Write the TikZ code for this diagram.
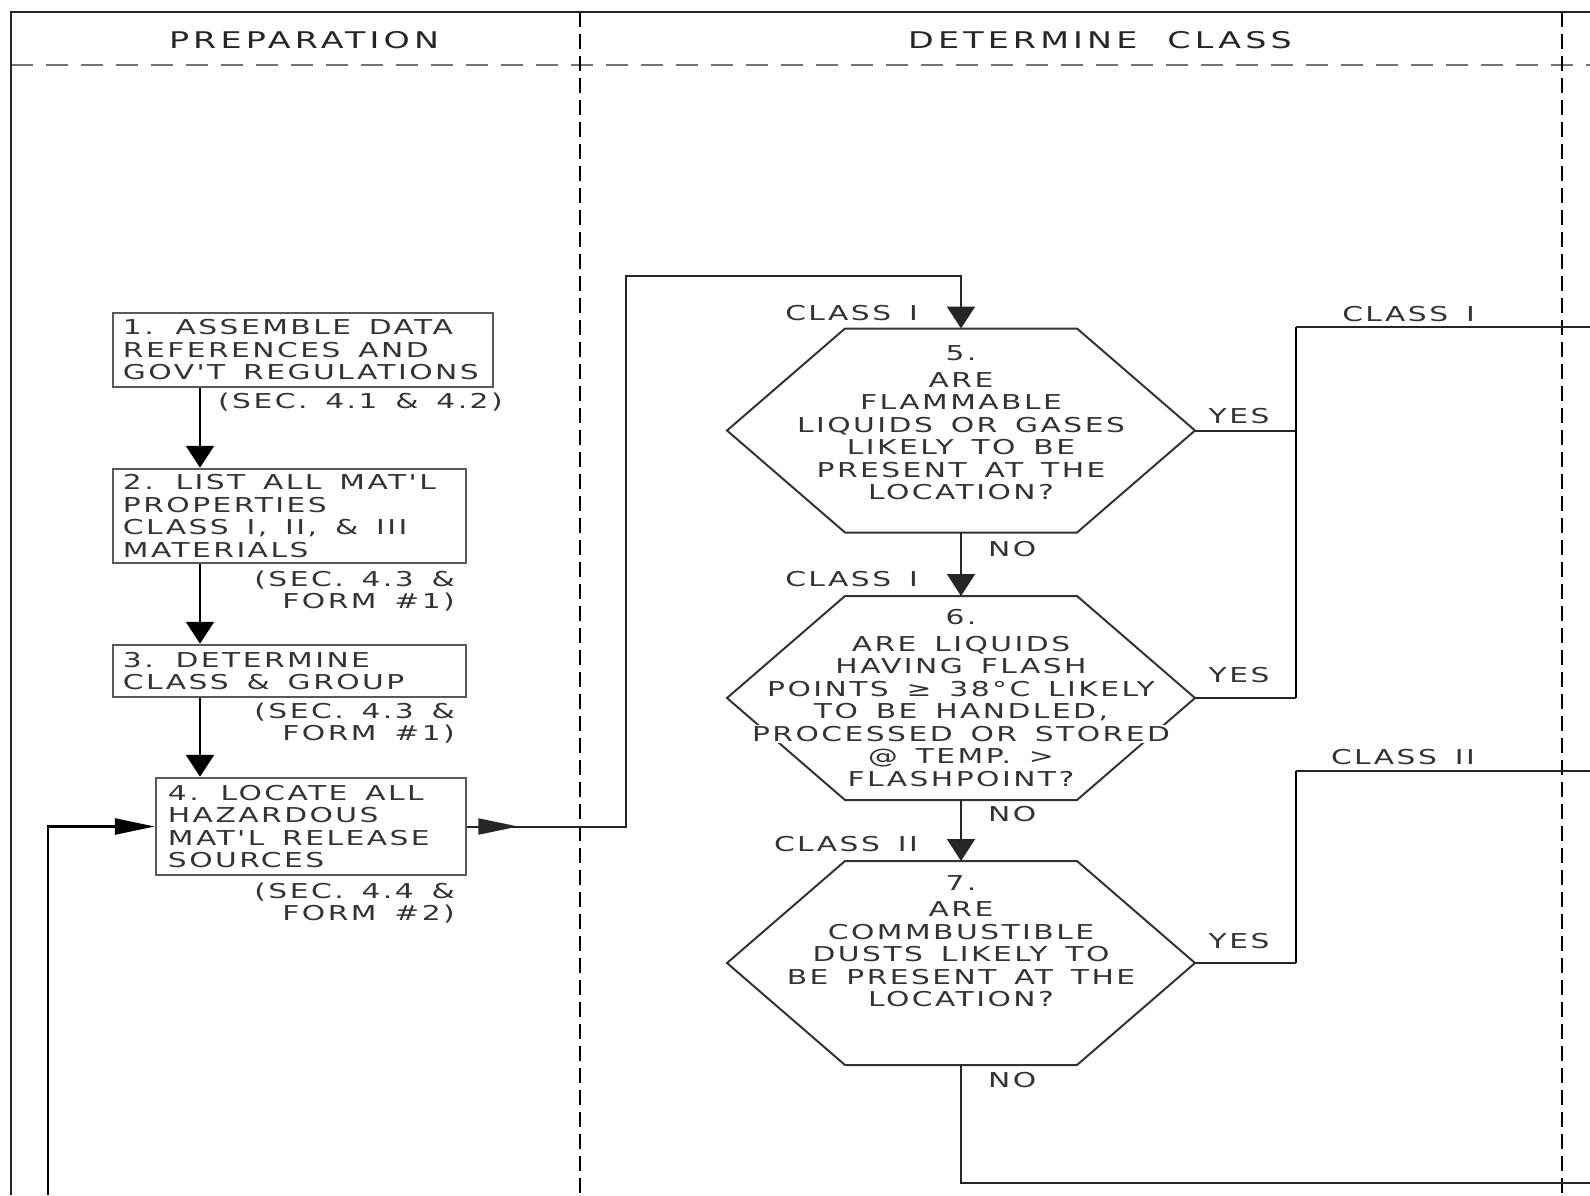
\documentclass[tikz,border=0pt]{standalone}
\usepackage{fontspec}
\setmainfont{DejaVu Sans}
\newfontfamily\cadfont[FakeStretch=1.45,LetterSpace=12,WordSpace=1.5]{DejaVu Sans}
\newfontfamily\cadhead[FakeStretch=1.45,LetterSpace=18,WordSpace=1.5]{DejaVu Sans}
\usetikzlibrary{arrows.meta,calc}

\tikzset{
  txt/.style={font=\cadfont\fontsize{20.5}{22.5}\selectfont, text=black!80, inner sep=0pt},
  headtxt/.style={font=\cadhead\fontsize{23}{25}\selectfont, text=black!85, inner sep=0pt},
  procbox/.style={draw=black!65, line width=2.5pt, inner sep=0pt},
  conn/.style={draw=black!85, line width=2pt},
  mainarr/.style={draw=black, line width=2.6pt},
  vtip/.style={-{Triangle[length=22pt,width=28pt]}},
  htip/.style={-{Triangle[length=40pt,width=16pt]}},
  hexline/.style={draw=black!80, line width=2pt, line join=miter},
  lanediv/.style={draw=black, line width=2.6pt, dash pattern=on 15pt off 7pt},
  headline/.style={draw=black!55, line width=2pt, dash pattern=on 22pt off 13pt},
  frame/.style={draw=black!85, line width=2.6pt},
}

\newcommand{\hexshape}[3]{%
  \draw[hexline] (#2-234,#3) -- (#2-116,#3-102) -- (#2+116,#3-102) -- (#2+234,#3) -- (#2+116,#3+102) -- (#2-116,#3+102) -- cycle;
  \coordinate (#1n) at (#2,#3-102);
  \coordinate (#1s) at (#2,#3+102);
  \coordinate (#1e) at (#2+234,#3);
  \coordinate (#1w) at (#2-234,#3);
}

\begin{document}
\begin{tikzpicture}[x=1pt,y=-1pt]
\useasboundingbox (0,0) rectangle (1590,1195);

% lanes and header
\draw[headline] (11,65) -- (1590,65);
\draw[lanediv] (580,12) -- (580,1195);
\draw[lanediv] (1562,12) -- (1562,1195);
\draw[frame] (11,1195) -- (11,12) -- (1590,12);
\node[headtxt] (hprep) at (304,40) {PREPARATION};
\node[headtxt] (hdet) at (1100,40) {DETERMINE\hspace{8pt} CLASS};

% preparation boxes
\node[procbox, minimum width=380pt, minimum height=74pt] (b1) at (303,350) {};
\node[txt, align=left, anchor=west] (b1t) at ($(b1.west)+(11,0)$) {1. ASSEMBLE DATA\\REFERENCES AND\\GOV'T REGULATIONS};
\node[procbox, minimum width=353pt, minimum height=94pt] (b2) at (289.5,516) {};
\node[txt, align=left, anchor=west] (b2t) at ($(b2.west)+(11,0)$) {2. LIST ALL MAT'L\\PROPERTIES\\CLASS I, II, \& III\\MATERIALS};
\node[procbox, minimum width=353pt, minimum height=52pt] (b3) at (289.5,671) {};
\node[txt, align=left, anchor=west] (b3t) at ($(b3.west)+(11,0)$) {3. DETERMINE\\CLASS \& GROUP};
\node[procbox, minimum width=310pt, minimum height=97pt] (b4) at (311,826.5) {};
\node[txt, align=left, anchor=west] (b4t) at ($(b4.west)+(13,0)$) {4. LOCATE ALL\\HAZARDOUS\\MAT'L RELEASE\\SOURCES};

\node[txt, anchor=west] (s1) at (218,402) {(SEC. 4.1 \& 4.2)};
\node[txt, align=right, anchor=east] (s2) at (455,591) {(SEC. 4.3 \&\\FORM \#1)};
\node[txt, align=right, anchor=east] (s3) at (455,723) {(SEC. 4.3 \&\\FORM \#1)};
\node[txt, align=right, anchor=east] (s4) at (455,903) {(SEC. 4.4 \&\\FORM \#2)};

\coordinate (ax) at (200,0);
\draw[mainarr, vtip] (b1.south -| ax) -- (b2.north -| ax);
\draw[mainarr, vtip] (b2.south -| ax) -- (b3.north -| ax);
\draw[mainarr, vtip] (b3.south -| ax) -- (b4.north -| ax);

% hexagons
\hexshape{h5}{961}{430.5}
\hexshape{h6}{961}{698}
\hexshape{h7}{961}{963}

\node[txt, align=center] (h5t) at (961,423) {5.\\[4pt]ARE\\FLAMMABLE\\LIQUIDS OR GASES\\LIKELY TO BE\\PRESENT AT THE\\LOCATION?};
\node[txt, align=center] (h6t) at (961,698) {6.\\[4pt]ARE LIQUIDS\\HAVING FLASH\\POINTS ≥ 38°C LIKELY\\TO BE HANDLED,\\{\fboxsep=1pt\colorbox{white}{PROCESSED OR STORED}}\\@ TEMP. >\\FLASHPOINT?};
\node[txt, align=center] (h7t) at (961,941) {7.\\[4pt]ARE\\COMMBUSTIBLE\\DUSTS LIKELY TO\\BE PRESENT AT THE\\LOCATION?};

% loop and exit from box 4
\coordinate (loopin) at (48,1195);
\draw[mainarr, htip] (loopin) |- (b4.west);
\coordinate (r1) at (625.5,826.5);
\coordinate (r2) at (625.5,276);
\draw[conn, htip] (b4.east) -- ++(51,0);
\draw[conn, vtip] (b4.east) -- (r1) -- (r2) -| (h5n);

% hex connectors
\draw[conn, vtip] (h5s) -- (h6n);
\draw[conn, vtip] (h6s) -- (h7n);
\coordinate (noexit) at (1590,1182.5);
\draw[conn] (h7s) |- (noexit);

\coordinate (j1) at (1296,326.5);
\coordinate (c1exit) at (1590,326.5);
\coordinate (j2) at (1296,771);
\coordinate (c2exit) at (1590,771);
\draw[conn] (h5e) -- (h5e -| j1);
\draw[conn] (h6e) -- (h6e -| j1);
\draw[mainarr] (h6e -| j1) -- (j1);
\draw[conn] (j1) -- (c1exit);
\draw[conn] (h7e) -- (h7e -| j2);
\draw[mainarr] (h7e -| j2) -- (j2);
\draw[conn] (j2) -- (c2exit);

% labels
\node[txt, anchor=east] (lc1) at (918,313) {CLASS I};
\node[txt, anchor=east] (lc2) at (918,579) {CLASS I};
\node[txt, anchor=east] (lc3) at (918,844) {CLASS II};
\node[txt, anchor=west] (ln1) at (988,549) {NO};
\node[txt, anchor=west] (ln2) at (988,814) {NO};
\node[txt, anchor=west] (ln3) at (988,1080) {NO};
\node[txt] (ly1) at (1239,416) {YES};
\node[txt] (ly2) at (1239,675) {YES};
\node[txt] (ly3) at (1239,941) {YES};
\node[txt, anchor=east] (lr1) at (1475,314) {CLASS I};
\node[txt, anchor=east] (lr2) at (1475,757) {CLASS II};
\end{tikzpicture}
\end{document}
